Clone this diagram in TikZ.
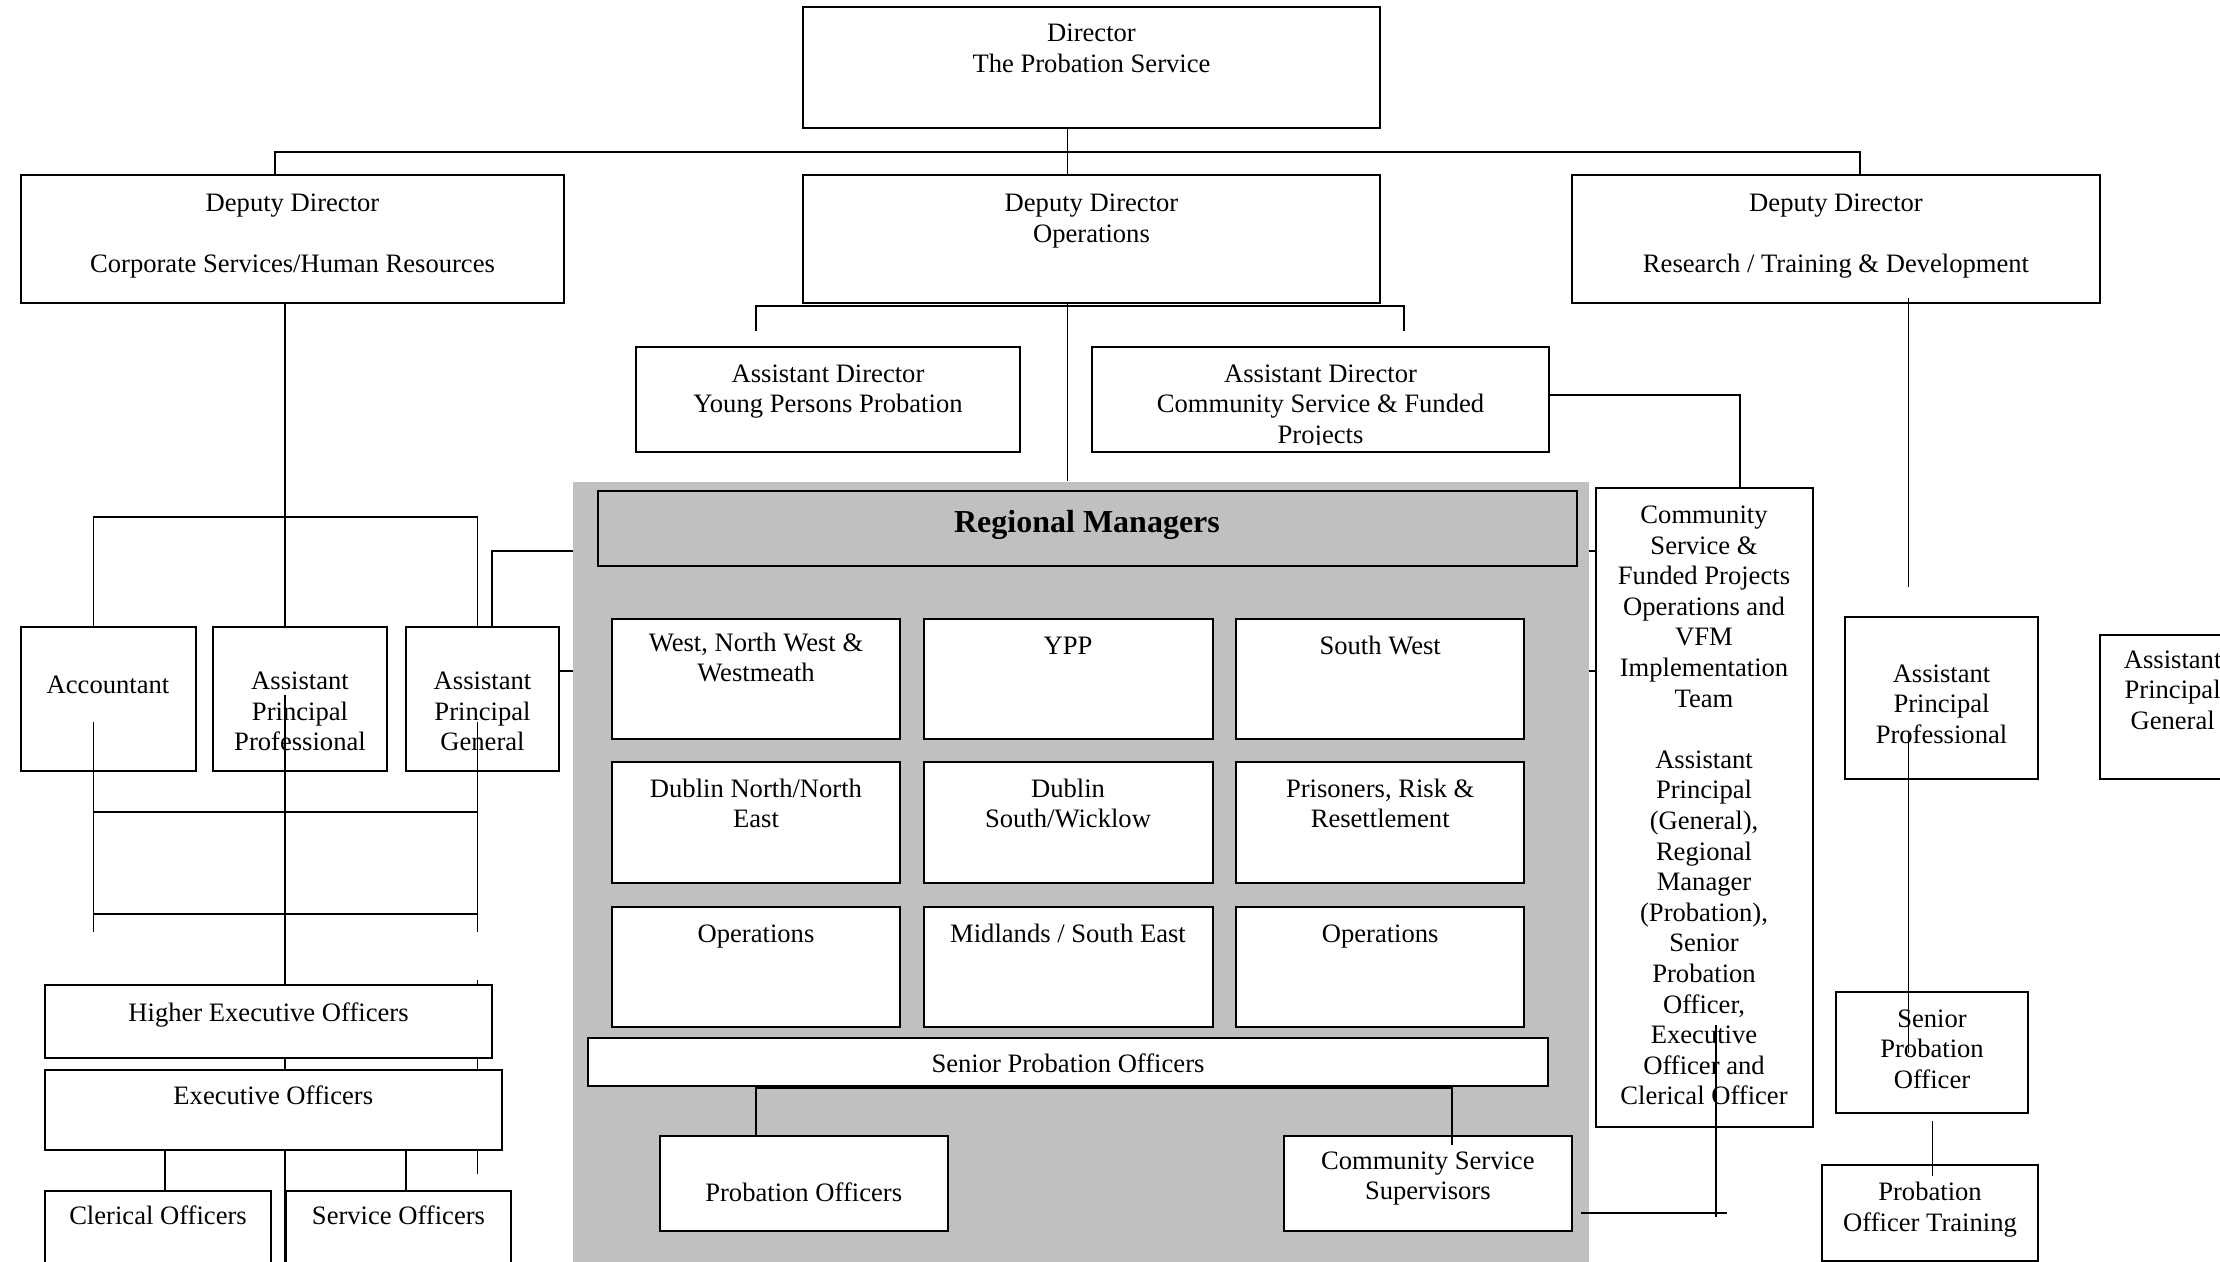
\documentclass[tikz,border=0pt]{standalone}
\usepackage{fontspec}
\setmainfont{Liberation Serif}
\usetikzlibrary{fit}
\definecolor{greyfill}{HTML}{C0C0C0}
\newcommand\fsz{\fontsize{13.3}{15.3}\selectfont}
\tikzset{
  box/.style={draw, line width=1pt, fill=white, inner sep=0pt},
  ln/.style={line width=0.85pt},
  txt/.style={font=\fsz, align=center, inner sep=0pt, anchor=north, yshift=-1.5pt,
    execute at begin node=\strut, execute at end node=\strut},
}
\begin{document}
\begin{tikzpicture}[x=0.5pt,y=-0.5pt]
\useasboundingbox (0,0) rectangle (2220,1262);
\clip (0,0) rectangle (2220,1262);
% grey region
\node[fill=greyfill, inner sep=0pt, fit={(573,481.5) (1589,1275)}] (grey) {};
% helper coordinates
\coordinate (j0) at (1067.5,152);
\coordinate (bL) at (275,152);
\coordinate (bR) at (1860,152);
\coordinate (xL) at (285,0);
\coordinate (xA) at (93.4,517);
\coordinate (xG) at (477.6,517);
% ---------- back lines ----------
\draw[ln] (285,303) -- (285,1262);
\draw[ln] (477.6,980) -- (477.6,1174);
% ---------- top level ----------
\node[box, fit={(803,7) (1380,128)}] (dir) {};
\node[txt] (tdir) at (1091.5,20.4) {Director\\The Probation Service};
\node[box, fit={(21,175) (564,303)}] (dd1) {};
\node[txt] (tdd1) at (292.5,190.4) {Deputy Director\\\mbox{}\\Corporate Services/Human Resources};
\node[box, fit={(803,175) (1380,303)}] (dd2) {};
\node[txt] (tdd2) at (1091.5,190.4) {Deputy Director\\Operations};
\node[box, fit={(1572,175) (2100,303)}] (dd3) {};
\node[txt] (tdd3) at (1836,190.4) {Deputy Director\\\mbox{}\\Research / Training \& Development};
\draw[ln] (dir.south -| j0) -- (dd2.north -| j0);
\draw[ln] (dd1.north -| bL) -- (bL) -- (bR) -- (dd3.north -| bR);
\draw[ln] (dd2.south -| j0) -- (grey.north -| j0);
\coordinate (u1) at (756,331);
\coordinate (u2) at (1404,331);
\draw[ln] (u1) -- (756,306) -- (1404,306) -- (u2);
% assistant directors
\node[box, fit={(636,347) (1020,452)}] (ad1) {};
\node[txt] (tad1) at (828,361) {Assistant Director\\Young Persons Probation};
\node[box, fit={(1092,347) (1549,452)}] (ad2) {};
\begin{scope}
\clip (1092,347) rectangle (1549,444);
\node[txt] (tad2) at (1320.5,361) {Assistant Director\\Community Service \& Funded\\Projects};
\end{scope}
% ---------- regional managers ----------
\node[box, fill=greyfill, fit={(597.5,491) (1577,566)}] (rm) {};
\node[font=\fontsize{16}{19.2}\selectfont\bfseries, inner sep=0pt, anchor=base] (trm) at (1087,532) {Regional Managers};
\foreach \r/\ya/\yb in {1/618.6/738.8, 2/762/882.5, 3/906.5/1026.7}{
  \foreach \c/\xa/\xb in {1/612/900, 2/923.5/1212.6, 3/1236/1524.4}{
    \node[box, fit={(\xa,\ya) (\xb,\yb)}] (cell\r\c) {};
  }
}
\node[txt] (t11) at (756,629.4) {West, North West \&\\Westmeath};
\node[txt] (t12) at (1068,629.4) {YPP};
\node[txt] (t13) at (1380.2,629.4) {South West};
\node[txt] (t21) at (756,775.4) {Dublin North/North\\East};
\node[txt] (t22) at (1068,775.4) {Dublin\\South/Wicklow};
\node[txt] (t23) at (1380.2,775.4) {Prisoners, Risk \&\\Resettlement};
\node[txt] (t31) at (756,917.4) {Operations};
\node[txt] (t32) at (1068,917.4) {Midlands / South East};
\node[txt] (t33) at (1380.2,917.4) {Operations};
\node[box, fit={(588,1038) (1548,1086)}] (spos) {};
\node[txt] (tspos) at (1068,1048) {Senior Probation Officers};
\node[box, fit={(659.5,1136) (948,1231)}] (po) {};
\node[txt] (tpo) at (803.7,1176.4) {Probation Officers};
\node[box, fit={(1283.6,1136) (1572,1231)}] (css) {};
\node[txt] (tcss) at (1427.8,1148) {Community Service\\Supervisors};
\coordinate (sp1) at (756,1088);
\coordinate (sp2) at (1452.3,1088);
\coordinate (sp3) at (1452.3,1145);
\draw[ln] (po.north -| sp1) -- (sp1) -- (sp2) -- (sp3);
% ---------- community service column ----------
\node[box, fit={(1596,488) (1812.7,1126.5)}] (cs) {};
\node[txt] (tcs) at (1704,502.4) {Community\\Service \&\\Funded Projects\\Operations and\\VFM\\Implementation\\Team\\\mbox{}\\Assistant\\Principal\\(General),\\Regional\\Manager\\(Probation),\\Senior\\Probation\\Officer,\\Executive\\Officer and\\Clerical Officer};
\coordinate (c1) at (1740,395);
\draw[ln] (ad2.east |- c1) -- (c1) -- (cs.north -| c1);
\coordinate (s1) at (0,551);
\coordinate (s2) at (0,671);
\draw[ln] (grey.east |- s1) -- (cs.west |- s1);
\draw[ln] (grey.east |- s2) -- (cs.west |- s2);
\coordinate (v1) at (1716,1025);
\coordinate (v2) at (1716,1217);
\coordinate (h1) at (1581,1213.3);
\coordinate (h2) at (1726.5,1213.3);
\draw[ln] (v1) -- (v2);
\draw[ln] (h1) -- (h2);
% ---------- right branch ----------
\node[box, fit={(1845,617) (2038,779)}] (app) {};
\node[txt] (tapp) at (1941.5,661) {Assistant\\Principal\\Professional};
\node[box, fit={(2100,635) (2260,779)}] (apgr) {};
\node[txt] (tapgr) at (2172.6,647) {Assistant\\Principal\\General};
\node[box, fit={(1836,992) (2028,1113)}] (spo) {};
\node[txt] (tspo) at (1932,1006) {Senior\\Probation\\Officer};
\node[box, fit={(1822,1165) (2038,1261)}] (pot) {};
\node[txt] (tpot) at (1930,1178.6) {Probation\\Officer Training};
\coordinate (r1) at (1908.6,298);
\coordinate (r2) at (1908.6,587);
\coordinate (r3) at (1908.6,733);
\coordinate (r4) at (1908.6,1053);
\coordinate (r5) at (1932.5,1121);
\coordinate (r6) at (1932.5,1176);
\draw[ln] (r1) -- (r2);
\draw[ln] (r3) -- (r4);
\draw[ln] (r5) -- (r6);
% ---------- left branch ----------
\draw[ln] (93.4,626.7) -- (xA) -- (xG) -- (477.6,626.7);
\coordinate (g1) at (491.7,551);
\node[box, fit={(21,626.7) (195.6,770.5)}] (acc) {};
\node[txt] (tacc) at (108,668.4) {Accountant};
\node[box, fit={(213,626.7) (387,770.5)}] (apl) {};
\node[txt] (tapl) at (300,668.4) {Assistant\\Principal\\Professional};
\node[box, fit={(405.7,626.7) (559.3,770.5)}] (apg) {};
\node[txt] (tapg) at (482.5,668.4) {Assistant\\Principal\\General};
\draw[ln] (grey.west |- g1) -- (g1) -- (apg.north -| g1);
\draw[ln] (apg.east |- s2) -- (grey.west |- s2);
\node[box, fit={(45,985) (492,1057.5)}] (heo) {};
\node[txt] (theo) at (268.5,997) {Higher Executive Officers};
\node[box, fit={(45,1069.7) (501.7,1149.5)}] (eo) {};
\node[txt] (teo) at (273.3,1079.4) {Executive Officers};
\node[box, fit={(44.6,1191) (271,1280)}] (clo) {};
\node[txt] (tclo) at (158,1199.4) {Clerical Officers};
\node[box, fit={(285.7,1191) (511,1280)}] (svo) {};
\node[txt] (tsvo) at (398.5,1199.4) {Service Officers};
\coordinate (e1) at (165.3,0);
\coordinate (e2) at (405.7,0);
\draw[ln] (eo.south -| e1) -- (clo.north -| e1);
\draw[ln] (eo.south -| e2) -- (svo.north -| e2);
% front lines on the left
\draw[ln] (93.4,722) -- (93.4,931.6);
\draw[ln] (477.6,722) -- (477.6,931.6);
\draw[ln] (285,695) -- (heo.north -| xL);
\draw[ln] (93.4,812) -- (477.6,812);
\draw[ln] (93.4,914) -- (477.6,914);
\end{tikzpicture}
\end{document}
